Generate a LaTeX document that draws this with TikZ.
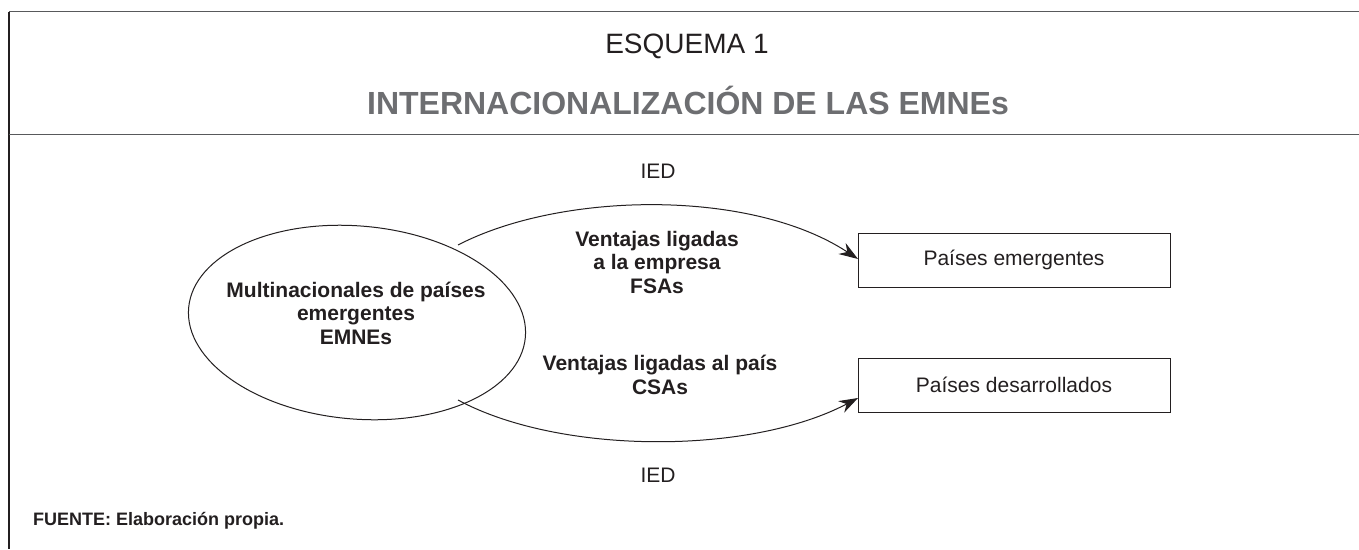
\documentclass[tikz,border=0pt]{standalone}
\usepackage{fontspec}
\setmainfont{Liberation Sans}
\usetikzlibrary{shapes.geometric,arrows.meta}
\definecolor{ink}{HTML}{231F20}
\definecolor{titlegray}{HTML}{6D6E71}
\definecolor{framegray}{HTML}{58595B}
\tikzset{
  body/.style={text=ink,font=\fontsize{21}{22.5}\selectfont,align=center,inner sep=0pt},
  bodyb/.style={body,font=\fontsize{21}{23.5}\selectfont\bfseries},
  box/.style={draw=ink,line width=1pt,minimum width=312pt,minimum height=54pt,inner sep=0pt,text=ink,font=\fontsize{21}{22.5}\selectfont},
  conn/.style={draw=ink,line width=1pt,-{Stealth[length=19pt,width=13pt]}},
}
\begin{document}
\begin{tikzpicture}[x=1pt,y=-1pt]
\useasboundingbox[fill=white] (0,0) rectangle (1359,549);
% frame
\coordinate (tl) at (9,11.5);
\coordinate (tr) at (1359,11.5);
\coordinate (bl) at (9,549);
\draw[framegray,line width=1.6pt] (tl) -- (tr);
\draw[ink,line width=1.6pt] (tl) -- (bl);
\coordinate (sl) at (9,134);
\coordinate (sr) at (1359,134);
\draw[framegray,line width=0.8pt] (sl) -- (sr);
% titles
\node[text=ink,font=\fontsize{28}{30}\selectfont,inner sep=0pt] (t1) at (687,46) {ESQUEMA 1};
\node[text=titlegray,font=\fontsize{32}{34}\selectfont\bfseries,inner sep=0pt] (t2) at (688,100) {INTERNACIONALIZACIÓN DE LAS EMNEs};
% ellipse
\node[ellipse,draw=ink,line width=1pt,minimum width=338pt,minimum height=193pt,rotate=-5] (ell) at (357,322.5) {};
\node[bodyb] (ellt) at (356,313) {Multinacionales de países\\emergentes\\EMNEs};
% boxes
\node[box] (b1) at (1014,260) {Países emergentes};
\node[box] (b2) at (1014,385) {Países desarrollados};
% connectors
\coordinate (s1) at (458,245);
\coordinate (s2) at (458,400);
\coordinate (e1) at (858,259);
\coordinate (e2) at (858,398);
\draw[conn] (s1) .. controls (560,192) and (750,188) .. (e1);
\draw[conn] (s2) .. controls (560,455) and (750,455) .. (e2);
% labels
\node[bodyb] (l1) at (657,262) {Ventajas ligadas\\a la empresa\\FSAs};
\node[bodyb] (l2) at (660,375) {Ventajas ligadas al país\\CSAs};
\node[body] (ied1) at (658,171) {IED};
\node[body] (ied2) at (658,475) {IED};
\node[text=ink,font=\fontsize{18}{20}\selectfont\bfseries,anchor=west,inner sep=0pt] (src) at (33,521) {FUENTE: Elaboración propia.};
\end{tikzpicture}
\end{document}
